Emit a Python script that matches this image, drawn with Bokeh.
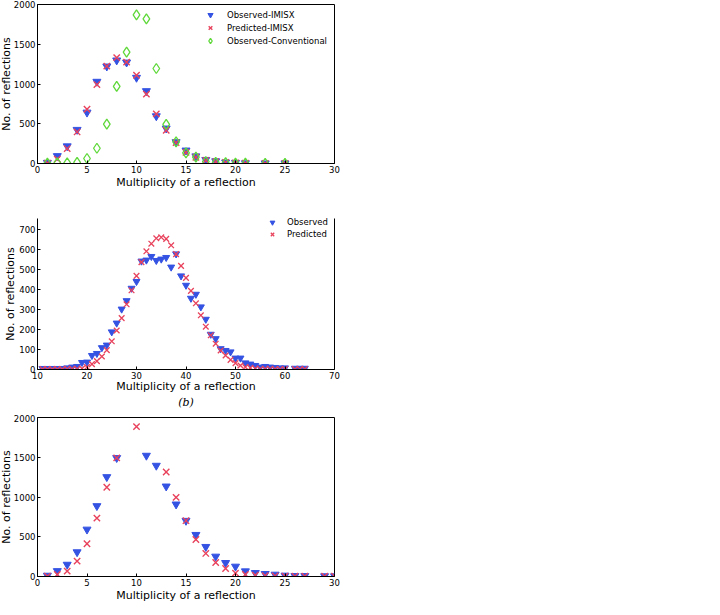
from bokeh.plotting import figure
from bokeh.layouts import column
from bokeh.models import FixedTicker, LinearAxis, Range1d, Legend, LegendItem, Title
from bokeh.embed import file_html
from bokeh.resources import INLINE

# ---------------- data ----------------
# Panel (a)
x_a = [1, 2, 3, 4, 5, 6, 7, 8, 9, 10, 11, 12, 13, 14, 15, 16, 17, 18, 19, 20, 21, 23, 25]
obs_imisx_a = [10, 95, 218, 425, 642, 1030, 1222, 1298, 1272, 1080, 912, 596, 442, 270,
               165, 92, 47, 30, 15, 10, 5, 3, 3]
pred_imisx_a = [5, 55, 188, 397, 682, 993, 1225, 1331, 1275, 1110, 872, 625, 418, 262,
                140, 78, 40, 22, 12, 6, 4, 2, 2]
obs_conv_a = [5, 8, 8, 15, 63, 192, 494, 971, 1402, 1870, 1820, 1195, 492, 272,
              134, 80, 25, 15, 10, 5, 5, 3, 3]

# Panel (b)
x_b = list(range(11, 61)) + [62, 63, 64]
obs_b = [5, 5, 5, 5, 5, 8, 12, 15, 35, 37, 70, 80, 109, 122, 188, 232, 302, 344, 406, 440,
         542, 547, 565, 545, 552, 560, 512, 578, 468, 421, 356, 376, 313, 251, 176, 154, 104,
         95, 88, 57, 57, 33, 27, 20, 12, 15, 12, 10, 8, 8, 6, 6, 6]
pred_b = [2, 2, 2, 2, 2, 3, 3, 3, 5, 12, 27, 42, 65, 97, 141, 195, 257, 326, 396, 468,
          537, 591, 629, 656, 661, 653, 621, 577, 518, 458, 393, 331, 271, 214, 171, 129, 95,
          70, 48, 32, 20, 12, 8, 5, 3, 3, 3, 2, 2, 2, 2, 2, 2]

# Panel (c)
x_c_obs = [1, 2, 3, 4, 5, 6, 7, 8, 11, 12, 13, 14, 15, 16, 17, 18, 19, 20, 21, 22, 23, 24,
           25, 26, 27, 29, 30]
obs_c = [12, 70, 150, 307, 592, 887, 1252, 1492, 1521, 1395, 1134, 908, 702, 525, 374, 252,
         172, 126, 67, 46, 34, 25, 13, 8, 8, 5, 5]
x_c_pred = [1, 2, 3, 4, 5, 6, 7, 8, 10, 13, 14, 15, 16, 17, 18, 19, 20, 21, 22, 23, 24, 25,
            26, 27, 29, 30]
pred_c = [5, 25, 67, 193, 412, 735, 1122, 1492, 1885, 1315, 996, 702, 466, 290, 176, 101,
          42, 25, 17, 10, 8, 5, 5, 5, 3, 3]

ticks_x_a = [0, 5, 10, 15, 20, 25, 30]
ticks_y_a = [0, 500, 1000, 1500, 2000]
ticks_x_b = [10, 20, 30, 40, 50, 60, 70]
ticks_y_b = [0, 100, 200, 300, 400, 500, 600, 700]

XLABEL = "Multiplicity of a reflection"
YLABEL = "No. of reflections"

FONT = "DejaVu Sans"
BLUE = "#3553e3"
RED = "#e8425c"
GREEN = "#5fd83a"


def make_fig(fw, fh, xr, yr, bl, br, bt, bb):
    p = figure(frame_width=fw, frame_height=fh, x_range=Range1d(*xr), y_range=Range1d(*yr),
               output_backend="svg", toolbar_location=None,
               min_border_left=bl, min_border_right=br, min_border_top=bt, min_border_bottom=bb)
    p.xgrid.grid_line_color = None
    p.ygrid.grid_line_color = None
    p.outline_line_color = "black"
    p.outline_line_width = 1
    p.background_fill_color = "white"
    p.border_fill_color = "white"
    return p


def style_axes(p, xticks, yticks, xlab_standoff=0, ylab_standoff=0):
    for ax in (p.xaxis[0], p.yaxis[0]):
        ax.major_tick_in = 3
        ax.major_tick_out = 0
        ax.minor_tick_line_color = None
        ax.major_label_text_font = FONT
        ax.major_label_text_font_size = "8.5px"
        ax.major_label_text_color = "black"
        ax.major_label_standoff = 2
        ax.axis_line_color = "black"
        ax.major_tick_line_color = "black"
    ax = p.xaxis[0]
    ax.axis_label_text_font = FONT
    ax.axis_label_text_font_size = "11px"
    ax.axis_label_text_font_style = "normal"
    ax.axis_label_text_color = "black"
    ax.axis_label = XLABEL
    ax.axis_label_standoff = xlab_standoff
    p.xaxis[0].ticker = FixedTicker(ticks=xticks)
    p.yaxis[0].ticker = FixedTicker(ticks=yticks)
    # y-axis title as a side title, outside the tick labels
    p.add_layout(Title(text=YLABEL, align="center", standoff=ylab_standoff, offset=0,
                       text_font=FONT, text_font_size="11px", text_font_style="normal",
                       text_color="black"), "left")


def style_legend(leg, loc, glyph_w, standoff, lh):
    leg.location = loc
    leg.background_fill_alpha = 0
    leg.border_line_color = None
    leg.margin = 0
    leg.padding = 0
    leg.spacing = 0
    leg.label_height = lh
    leg.glyph_height = lh
    leg.glyph_width = glyph_w
    leg.label_standoff = standoff
    leg.label_text_font = FONT
    leg.label_text_font_size = "8.5px"
    leg.label_text_color = "black"


FW = 297
LEFT = 37

# ---------------- panel (a) ----------------
p1 = make_fig(FW, 159, (0, 30), (0, 2000), LEFT, 11, 4, 42)
r_obs = p1.scatter(x_a, obs_imisx_a, marker="inverted_triangle", size=8,
                   fill_color=BLUE, line_color=BLUE)
r_pred = p1.scatter(x_a, pred_imisx_a, marker="x", size=9, line_color=RED, line_width=1.4)
r_conv = p1.scatter(x_a, obs_conv_a, marker="diamond", size=10, fill_color=None,
                    line_color=GREEN, line_width=1.3)
style_axes(p1, ticks_x_a, ticks_y_a, 0, -5)
leg1 = Legend(items=[LegendItem(label="Observed-IMISX", renderers=[r_obs]),
                     LegendItem(label="Predicted-IMISX", renderers=[r_pred]),
                     LegendItem(label="Observed-Conventional", renderers=[r_conv])])
style_legend(leg1, (166, 116), 14, 10, 13)
p1.add_layout(leg1, "center")

# ---------------- panel (b) ----------------
p2 = make_fig(FW, 151, (10, 70), (0, 755), LEFT, 11, 13, 45)
p2.outline_line_color = None
r_obs2 = p2.scatter(x_b, obs_b, marker="inverted_triangle", size=7,
                    fill_color=BLUE, line_color=BLUE)
r_pred2 = p2.scatter(x_b, pred_b, marker="x", size=8, line_color=RED, line_width=1.3)
style_axes(p2, ticks_x_b, ticks_y_b, -2, 0)
right_ax = LinearAxis(ticker=FixedTicker(ticks=[]), major_label_text_font_size="0px",
                      major_tick_in=0, major_tick_out=0, minor_tick_line_color=None,
                      axis_line_color="black", major_label_standoff=0)
p2.add_layout(right_ax, "right")
leg2 = Legend(items=[LegendItem(label="Observed", renderers=[r_obs2]),
                     LegendItem(label="Predicted", renderers=[r_pred2])])
style_legend(leg2, (229, 129), 12, 9, 12)
p2.add_layout(leg2, "center")
p2.add_layout(Title(text="(b)", align="center", text_font="DejaVu Serif",
                    text_font_style="italic", text_font_size="11px",
                    text_color="black", standoff=-3), "below")

# ---------------- panel (c) ----------------
p3 = make_fig(FW, 159, (0, 30), (0, 2000), LEFT, 11, 3, 39)
p3.scatter(x_c_obs, obs_c, marker="inverted_triangle", size=8,
           fill_color=BLUE, line_color=BLUE)
p3.scatter(x_c_pred, pred_c, marker="x", size=9, line_color=RED, line_width=1.4)
style_axes(p3, ticks_x_a, ticks_y_a, 0, -5)

layout = column(p1, p2, p3)

open("out.html", "w").write(file_html(layout, INLINE))
